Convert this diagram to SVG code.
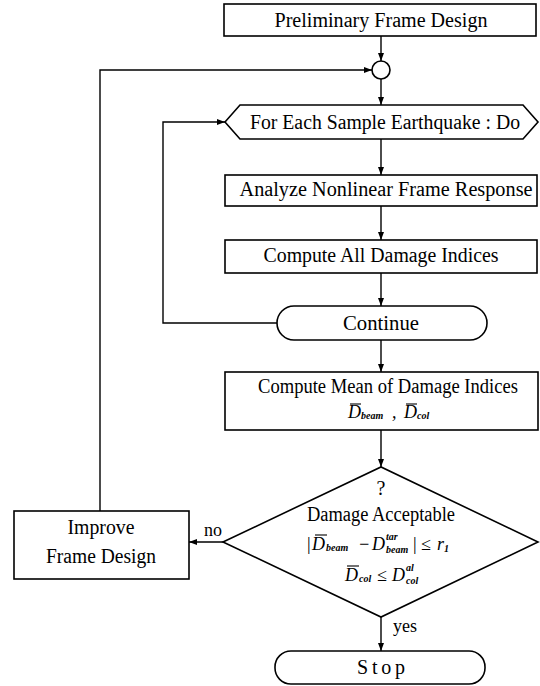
<svg xmlns="http://www.w3.org/2000/svg" width="540" height="686" viewBox="0 0 540 686">
<style>
.box{fill:#fff;stroke:#000;stroke-width:1.6}
.ln{fill:none;stroke:#000;stroke-width:1.4}
.t{font-family:"Liberation Serif","Times New Roman",serif;font-size:20px;fill:#000;text-anchor:middle}
.m{font-family:"Liberation Serif","Times New Roman",serif;font-size:18px;font-style:italic;fill:#000}
.s{font-family:"Liberation Serif","Times New Roman",serif;font-size:10px;font-weight:bold;font-style:italic;fill:#000}
.o{font-family:"Liberation Serif","Times New Roman",serif;font-size:18px;fill:#000}
.ov{stroke:#000;stroke-width:1.1}
</style>
<defs>
<marker id="ah" viewBox="0 0 8 6" refX="8" refY="3" markerWidth="8" markerHeight="6" markerUnits="userSpaceOnUse" orient="auto">
<path d="M0,0 L8,3 L0,6 Z" fill="#000"/>
</marker>
</defs>
<rect width="540" height="686" fill="#fff"/>
<g id="connectors">
<line class="ln" x1="381" y1="36" x2="381" y2="61" marker-end="url(#ah)"/>
<line class="ln" x1="381" y1="79" x2="381" y2="105" marker-end="url(#ah)"/>
<line class="ln" x1="381" y1="139" x2="381" y2="175" marker-end="url(#ah)"/>
<line class="ln" x1="381" y1="206" x2="381" y2="240" marker-end="url(#ah)"/>
<line class="ln" x1="381" y1="273" x2="381" y2="306" marker-end="url(#ah)"/>
<line class="ln" x1="381" y1="340" x2="381" y2="372" marker-end="url(#ah)"/>
<line class="ln" x1="381" y1="430" x2="381" y2="467" marker-end="url(#ah)"/>
<line class="ln" x1="381" y1="617" x2="381" y2="651" marker-end="url(#ah)"/>
<line class="ln" x1="223" y1="542" x2="189" y2="542" marker-end="url(#ah)"/>
<polyline class="ln" points="100,511 100,70 372,70" marker-end="url(#ah)"/>
<polyline class="ln" points="277,323 163,323 163,122 225,122" marker-end="url(#ah)"/>
<text class="o" x="213" y="536" text-anchor="middle" font-size="18">no</text>
<text class="o" x="393" y="632" font-size="18">yes</text>
</g>
<g id="preliminary">
<rect class="box" x="224" y="4" width="312" height="32"/>
<text class="t" x="381" y="27" textLength="213" lengthAdjust="spacingAndGlyphs">Preliminary Frame Design</text>
</g>
<g id="junction">
<circle class="box" cx="381" cy="70" r="9"/>
</g>
<g id="for-each">
<polygon class="box" points="225,122 240,105 523,105 538,122 523,139 240,139"/>
<text class="t" x="385" y="129" textLength="270" lengthAdjust="spacingAndGlyphs">For Each Sample Earthquake : Do</text>
</g>
<g id="analyze">
<rect class="box" x="225" y="175" width="312" height="31"/>
<text class="t" x="386" y="196" textLength="293" lengthAdjust="spacingAndGlyphs">Analyze Nonlinear Frame Response</text>
</g>
<g id="compute-all">
<rect class="box" x="225" y="240" width="312" height="33"/>
<text class="t" x="381" y="262" textLength="235" lengthAdjust="spacingAndGlyphs">Compute All Damage Indices</text>
</g>
<g id="continue">
<rect class="box" x="277" y="306" width="210" height="34" rx="17"/>
<text class="t" x="381" y="330" textLength="76" lengthAdjust="spacingAndGlyphs">Continue</text>
</g>
<g id="compute-mean">
<rect class="box" x="225" y="372" width="313" height="58"/>
<text class="t" x="388" y="393" font-size="19" textLength="260" lengthAdjust="spacingAndGlyphs">Compute Mean of Damage Indices</text>
<text class="m" y="418" font-size="17"><tspan x="348">D</tspan><tspan class="s" x="361" y="419">beam</tspan><tspan class="o" x="392" y="418">,</tspan><tspan x="404" y="418">D</tspan><tspan class="s" x="417" y="419">col</tspan></text>
<line class="ov" x1="350" y1="404" x2="361" y2="404"/>
<line class="ov" x1="406" y1="404" x2="417" y2="404"/>
</g>
<g id="decision">
<polygon class="box" points="223,542 381,467 538,542 381,617"/>
<text class="t" x="381" y="495">?</text>
<text class="t" x="381" y="521" textLength="148" lengthAdjust="spacingAndGlyphs">Damage Acceptable</text>
<text class="m" y="550"><tspan class="o" x="306" font-size="22">|</tspan><tspan x="312">D</tspan><tspan class="s" x="326" y="551">beam</tspan><tspan class="o" x="358" y="550">−</tspan><tspan x="372" y="550">D</tspan><tspan class="s" x="386" y="540" font-size="9">tar</tspan><tspan class="s" x="386" y="553">beam</tspan><tspan class="o" x="412" y="550" font-size="22">|</tspan><tspan class="o" x="421" y="550">≤</tspan><tspan x="437" y="550">r</tspan><tspan class="s" x="444" y="552" font-size="8">1</tspan></text>
<line class="ov" x1="315" y1="535" x2="327" y2="535"/>
<text class="m" y="581"><tspan x="345">D</tspan><tspan class="s" x="359" y="582">col</tspan><tspan class="o" x="377" y="581">≤</tspan><tspan x="392" y="581">D</tspan><tspan class="s" x="406" y="571" font-size="9">al</tspan><tspan class="s" x="406" y="584">col</tspan></text>
<line class="ov" x1="347" y1="566" x2="359" y2="566"/>
</g>
<g id="improve">
<rect class="box" x="14" y="511" width="175" height="68"/>
<text class="t" x="101" y="534" textLength="67" lengthAdjust="spacingAndGlyphs">Improve</text>
<text class="t" x="101" y="563" textLength="110" lengthAdjust="spacingAndGlyphs">Frame Design</text>
</g>
<g id="stop">
<rect class="box" x="275" y="651" width="210" height="33" rx="16"/>
<text class="t" x="381" y="674" textLength="48" lengthAdjust="spacing">Stop</text>
</g>
</svg>
